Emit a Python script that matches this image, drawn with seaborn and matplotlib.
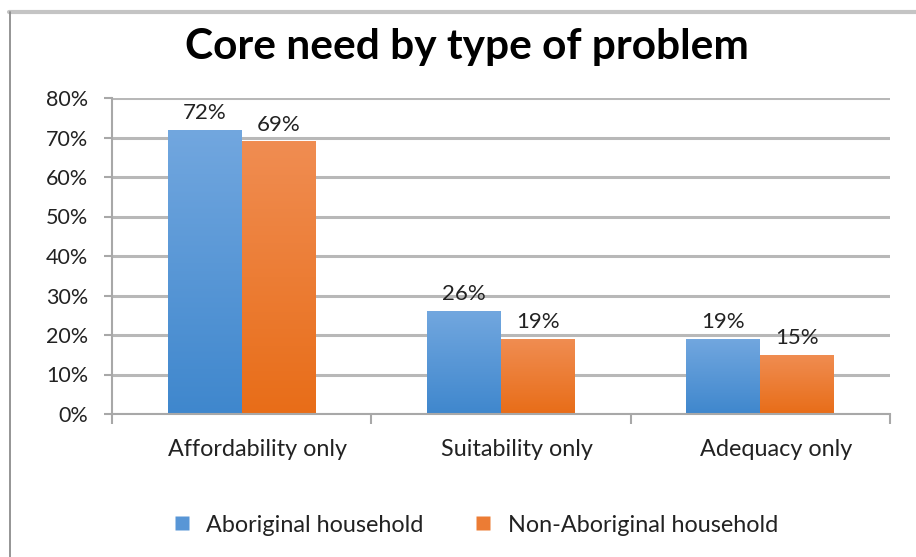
import matplotlib
matplotlib.use("Agg")
import matplotlib.pyplot as plt
import matplotlib.transforms as mtransforms
import seaborn as sns
import numpy as np
import pandas as pd
from matplotlib.colors import LinearSegmentedColormap
from matplotlib.lines import Line2D
from matplotlib.patches import Rectangle

categories = ["Affordability only", "Suitability only", "Adequacy only"]
series_names = ["Aboriginal household", "Non-Aboriginal household"]
aboriginal = [72, 26, 19]
non_aboriginal = [69, 19, 15]
y_ticks = [0, 10, 20, 30, 40, 50, 60, 70, 80]
y_tick_labels = ["0%", "10%", "20%", "30%", "40%", "50%", "60%", "70%", "80%"]
title = "Core need by type of problem"

df = pd.DataFrame({
    "category": categories * 2,
    "series": [series_names[0]] * 3 + [series_names[1]] * 3,
    "value": aboriginal + non_aboriginal,
})

sns.set_theme(style="white")
plt.rcParams["font.family"] = ["Lato", "DejaVu Sans"]

blue_top, blue_bot = "#72a7df", "#3f87cd"
orange_top, orange_bot = "#f08d52", "#e86d18"
palette = {series_names[0]: "#5896d6", series_names[1]: "#ec7c34"}

fig = plt.figure(figsize=(9.16, 5.57), dpi=100)
ax = fig.add_axes([112/916, 1-414/557, (890-112)/916, (414-98)/557])

sns.barplot(data=df, x="category", y="value", hue="series", palette=palette,
            width=0.57, ax=ax, legend=False, saturation=1, edgecolor="none")

ax.set_ylim(0, 80)
ax.set_xlim(-0.5, 2.5)
ax.set_yticks(y_ticks)
ax.set_yticklabels(y_tick_labels)
ax.yaxis.grid(True, color="#b8b8b8", linewidth=2.2)
ax.set_axisbelow(True)
ax.set_xlabel("")
ax.set_ylabel("")

for s in ["top", "right"]:
    ax.spines[s].set_visible(False)
for s in ["left", "bottom"]:
    ax.spines[s].set_color("#a8a8a8")
    ax.spines[s].set_linewidth(1.5)

ax.tick_params(axis="y", which="major", length=6, width=1.5, color="#a8a8a8",
               labelsize=15.5, labelcolor="#222222", pad=11, left=True)
ax.set_xticks([0, 1, 2])
ax.set_xticklabels(categories, fontsize=16.8, color="#222222")
ax.tick_params(axis="x", which="major", length=0, pad=18)
ax.set_xticks([-0.5, 0.5, 1.5, 2.5], minor=True)
ax.tick_params(axis="x", which="minor", length=7, width=1.5, color="#a8a8a8", bottom=True)

# category labels sit slightly right of the bar groups, as in the reference
shift = mtransforms.ScaledTranslation(16/100, 0, fig.dpi_scale_trans)
for lbl in ax.get_xticklabels():
    lbl.set_transform(lbl.get_transform() + shift)

# gradient fill on bars
n = len(categories)
grad = np.linspace(0, 1, 256).reshape(-1, 1)
cmaps = [LinearSegmentedColormap.from_list("b", [blue_top, blue_bot]),
         LinearSegmentedColormap.from_list("o", [orange_top, orange_bot])]
bars = [p for p in ax.patches if isinstance(p, Rectangle) and p.get_height() > 0]
for i, p in enumerate(bars):
    si = i // n
    x0, y0 = p.get_x(), p.get_y()
    w, h = p.get_width(), p.get_height()
    im = ax.imshow(grad, extent=[x0, x0 + w, y0, y0 + h], aspect="auto",
                   cmap=cmaps[si], zorder=p.get_zorder() + 0.1, origin="upper")
    im.set_clip_path(p)
    ax.annotate(f"{int(round(h))}%", (x0 + w / 2, y0 + h), xytext=(0, 5),
                textcoords="offset points", ha="center", va="bottom",
                fontsize=16, color="#222222")
ax.set_xlim(-0.5, 2.5)
ax.set_ylim(0, 80)

# legend
handles = [Line2D([0], [0], marker="s", linestyle="none", markersize=10,
                  markerfacecolor=palette[s], markeredgecolor="none") for s in series_names]
fig.legend(handles, series_names, loc="center", bbox_to_anchor=(474/916, 1-525/557),
           ncol=2, frameon=False, fontsize=16.8, handlelength=1.0, handletextpad=0.55,
           columnspacing=2.05, labelcolor="#222222")

fig.text(466.5/916, 1-47/557, title, ha="center", va="center", fontsize=30.5,
         fontweight="bold", color="black")

# chart frame
fig.add_artist(Line2D([9/916, 1.0], [1-11.5/557, 1-11.5/557], transform=fig.transFigure,
                      color="#c4c4c4", linewidth=3))
fig.add_artist(Line2D([9.5/916, 9.5/916], [0, 1-11.5/557], transform=fig.transFigure,
                      color="#8c8c8c", linewidth=1.3))

fig.savefig("out.png", dpi=100)
